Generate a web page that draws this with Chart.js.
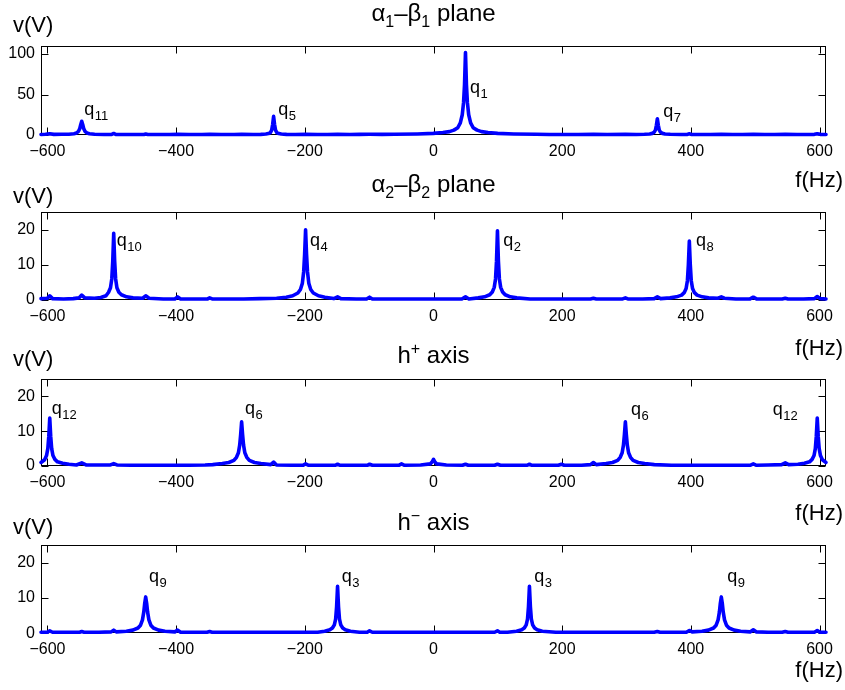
<!DOCTYPE html>
<html><head><meta charset="utf-8">
<script src="https://cdn.jsdelivr.net/npm/chart.js@4.4.1/dist/chart.umd.min.js"></script>
<style>
html,body{margin:0;padding:0;background:#fff;}
#wrap{position:relative;width:845px;height:690px;overflow:hidden;background:#fff;}
canvas{position:absolute;left:0;}
</style></head><body><div id="wrap">
<canvas id="c0" width="845" height="200" style="top:0px"></canvas>
<canvas id="c1" width="845" height="200" style="top:170px"></canvas>
<canvas id="c2" width="845" height="200" style="top:340px"></canvas>
<canvas id="c3" width="845" height="200" style="top:490px"></canvas>
</div>
<script>
// ---------- DATA ----------
const xTicks = [-600, -400, -200, 0, 200, 400, 600];
const yTicksA = [0, 50, 100];
const yTicksB = [0, 10, 20];

// alpha1-beta1 plane spectrum [f(Hz), v(V)]
const spectrumA = [
 [-610,0.7],[-603,0.9],[-596.4,1.6],[-590,0.8],[-578,0.9],[-566.7,1.0],[-558.7,1.6],[-554.7,2.5],
 [-551.7,4.5],[-549.7,8],[-548.2,13],[-546.7,17],[-545.2,13],[-543.7,8],[-541.7,4.5],[-538.7,2.5],
 [-534.7,1.6],[-526.7,1.0],[-512,0.7],[-500,0.8],[-497,1.9],[-494,0.8],[-480,0.6],[-465,0.7],
 [-450,0.7],[-447.3,1.3],[-444,0.7],[-430,0.6],[-410,0.7],[-397.6,0.9],[-380,0.6],[-360,0.7],
 [-347.9,0.8],[-330,0.6],[-310,0.7],[-298.2,0.9],[-280,0.6],[-268.5,0.8],[-260.5,1.2],[-256.5,1.8],
 [-253.5,3],[-251.5,6],[-250,13],[-248.5,23],[-247,13],[-245.5,6],[-243.5,3],[-240.5,1.8],
 [-236.5,1.2],[-228.5,0.8],[-215,0.6],[-198.8,0.8],[-180,0.6],[-165,0.7],[-149.1,0.8],[-130,0.7],
 [-115,0.8],[-99.4,0.9],[-80,0.8],[-60.3,0.9],[-25.3,1.3],[-0.3,2],[14.7,3],[24.7,4.2],
 [31.7,6],[37.7,9],[41.7,15],[44.7,25],[46.7,40],[48.2,62],[49.7,102],[51.2,62],
 [52.7,40],[54.7,25],[57.7,15],[61.7,9],[67.7,6],[74.7,4.2],[84.7,3],[99.7,2],
 [124.7,1.3],[159.7,0.9],[180,0.7],[200,0.6],[225,0.7],[248.5,0.9],[270,0.6],[298.2,0.8],
 [315,0.6],[327.9,0.9],[335.9,1.3],[339.9,2],[342.9,3.5],[344.9,6],[346.4,12],[347.9,20],
 [349.4,12],[350.9,6],[352.9,3.5],[355.9,2],[359.9,1.3],[367.9,0.9],[385,0.6],[394,0.7],
 [397.6,1.4],[401,0.7],[415,0.6],[430,0.7],[447.3,0.9],[465,0.6],[480,0.7],[497,1.0],
 [515,0.6],[530,0.7],[546.7,0.9],[565,0.6],[580,0.7],[592,0.8],[596.4,1.6],[601,0.8],[610,0.6]
];

// alpha2-beta2 plane spectrum
const spectrumB = [
 [-610,0.4],[-600,0.5],[-596.4,1.2],[-592,0.4],[-575,0.3],[-560,0.4],[-551,0.6],[-546.7,1.4],
 [-542,0.6],[-527,0.5],[-517,0.7],[-509,1.2],[-505,2.2],[-502,3.5],[-500,6],[-498.5,11],
 [-497,19],[-495.5,11],[-494,6],[-492,3.5],[-489,2.2],[-485,1.5],[-477,0.9],[-467,0.6],
 [-452,0.5],[-447.3,1.2],[-442,0.5],[-420,0.3],[-402,0.3],[-397.6,0.9],[-393,0.3],[-370,0.3],
 [-351,0.3],[-347.9,0.6],[-344,0.3],[-320,0.3],[-295,0.3],[-270,0.4],[-243.8,0.5],[-228.8,0.8],
 [-218.8,1.2],[-210.8,2],[-206.8,3],[-203.8,4.8],[-201.8,8],[-200.3,13],[-198.8,20],[-197.3,13],
 [-195.8,8],[-193.8,4.8],[-190.8,3],[-186.8,2],[-178.8,1.2],[-168.8,0.8],[-155,0.4],[-149.1,0.9],
 [-144,0.4],[-120,0.3],[-104,0.3],[-99.4,0.8],[-95,0.3],[-70,0.3],[-45,0.3],[-20,0.3],
 [0,0.3],[20,0.3],[44,0.3],[49.7,0.9],[55,0.3],[69.4,0.6],[79.4,0.9],[87.4,1.5],
 [91.4,2.3],[94.4,3.6],[96.4,6],[97.9,11],[99.4,19.7],[100.9,11],[102.4,6],[104.4,3.6],
 [107.4,2.3],[111.4,1.5],[119.4,0.9],[129.4,0.6],[150,0.3],[175,0.3],[200,0.3],[225,0.3],
 [244,0.3],[248.5,0.5],[253,0.3],[275,0.3],[294,0.3],[298.2,0.6],[302,0.3],[325,0.3],
 [343,0.4],[347.9,0.9],[353,0.4],[367.6,0.6],[377.6,0.9],[385.6,1.4],[389.6,2.1],[392.6,3.3],
 [394.6,5.5],[396.1,10],[397.6,16.8],[399.1,10],[400.6,5.5],[402.6,3.3],[405.6,2.1],[409.6,1.4],
 [417.6,0.9],[427.6,0.6],[442,0.5],[447.3,0.9],[452,0.5],[470,0.3],[492,0.3],[497,0.8],
 [502,0.3],[525,0.3],[542,0.3],[546.7,0.5],[551,0.3],[575,0.3],[592,0.4],[596.4,1.0],[601,0.4],[610,0.3]
];

// h+ axis spectrum
const spectrumC = [
 [-610,1.0],[-604.4,1.8],[-601.4,3],[-599.4,5],[-597.9,8.5],[-596.4,13.8],[-594.9,8.5],[-593.4,5],
 [-591.4,3],[-588.4,1.9],[-584.4,1.2],[-576.4,0.8],[-566.4,0.5],[-555,0.3],[-546.7,0.9],[-540,0.3],
 [-520,0.3],[-502,0.3],[-497,0.7],[-492,0.3],[-470,0.2],[-440,0.2],[-410,0.2],[-380,0.2],
 [-355,0.3],[-343.2,0.4],[-328.2,0.7],[-318.2,1.0],[-310.2,1.6],[-306.2,2.5],[-303.2,3.8],[-301.2,6],
 [-299.7,9],[-298.2,12.7],[-296.7,9],[-295.2,6],[-293.2,3.8],[-290.2,2.5],[-286.2,1.6],[-278.2,1.0],
 [-268.2,0.7],[-253,0.4],[-248.5,1.1],[-244,0.3],[-220,0.2],[-203,0.2],[-198.8,0.6],[-194,0.2],
 [-170,0.2],[-153,0.2],[-149.1,0.5],[-145,0.2],[-120,0.2],[-103,0.2],[-99.4,0.5],[-95,0.2],
 [-70,0.2],[-54,0.2],[-49.7,0.6],[-45,0.2],[-20,0.3],[-5,0.6],[-2,1.2],[0,1.9],
 [2,1.2],[5,0.6],[20,0.3],[45,0.2],[49.7,0.5],[54,0.2],[80,0.2],[95,0.2],
 [99.4,0.5],[104,0.2],[130,0.2],[145,0.2],[149.1,0.5],[153,0.2],[180,0.2],[194,0.2],
 [198.8,0.5],[203,0.2],[230,0.2],[244,0.4],[248.5,1.0],[253,0.4],[268.2,0.7],[278.2,1.0],
 [286.2,1.6],[290.2,2.5],[293.2,3.8],[295.2,6],[296.7,9],[298.2,12.7],[299.7,9],[301.2,6],
 [303.2,3.8],[306.2,2.5],[310.2,1.6],[318.2,1.0],[328.2,0.7],[343.2,0.4],[370,0.2],[400,0.2],
 [430,0.2],[460,0.2],[480,0.2],[492,0.2],[497,0.6],[502,0.2],[520,0.3],[541,0.4],
 [546.7,0.9],[552,0.4],[566.4,0.5],[576.4,0.8],[584.4,1.2],[588.4,1.9],[591.4,3],[593.4,5],
 [594.9,8.5],[596.4,13.8],[597.9,8.5],[599.4,5],[601.4,3],[604.4,1.8],[610,1.0]
];

// h- axis spectrum
const spectrumD = [
 [-610,0.3],[-600,0.3],[-596.4,0.7],[-592,0.3],[-570,0.3],[-550,0.3],[-546.7,0.5],[-543,0.3],
 [-520,0.3],[-501,0.4],[-497,0.9],[-493,0.4],[-477.3,0.6],[-467.3,0.9],[-459.3,1.5],[-455.3,2.3],
 [-452.3,3.8],[-450.3,6],[-448.8,8.5],[-447.3,10.3],[-445.8,8.5],[-444.3,6],[-442.3,3.8],[-439.3,2.3],
 [-435.3,1.5],[-427.3,0.9],[-417.3,0.6],[-402,0.4],[-397.6,0.9],[-393,0.3],[-370,0.3],[-352,0.3],
 [-347.9,0.5],[-344,0.3],[-320,0.3],[-290,0.3],[-260,0.3],[-230,0.3],[-200,0.3],[-180,0.3],
 [-169.1,0.6],[-161.1,1.0],[-157.1,1.5],[-154.1,2.4],[-152.1,4],[-150.6,7.5],[-149.1,13.3],[-147.6,7.5],
 [-146.1,4],[-144.1,2.4],[-141.1,1.5],[-137.1,1.0],[-129.1,0.6],[-115,0.3],[-103,0.3],[-99.4,0.7],
 [-95,0.3],[-70,0.3],[-40,0.3],[-10,0.3],[20,0.3],[50,0.3],[75,0.3],[95,0.3],
 [99.4,0.7],[103,0.3],[115,0.3],[129.1,0.6],[137.1,1.0],[141.1,1.5],[144.1,2.4],[146.1,4],
 [147.6,7.5],[149.1,13.3],[150.6,7.5],[152.1,4],[154.1,2.4],[157.1,1.5],[161.1,1.0],[169.1,0.6],
 [190,0.3],[220,0.3],[250,0.3],[280,0.3],[310,0.3],[343,0.3],[347.9,0.5],[352,0.3],
 [375,0.3],[393,0.3],[397.6,0.8],[402,0.4],[417.3,0.6],[427.3,0.9],[435.3,1.5],[439.3,2.3],
 [442.3,3.8],[444.3,6],[445.8,8.5],[447.3,10.3],[448.8,8.5],[450.3,6],[452.3,3.8],[455.3,2.3],
 [459.3,1.5],[467.3,0.9],[477.3,0.6],[492,0.4],[497,1.0],[502,0.4],[520,0.3],[542,0.3],
 [546.7,0.5],[551,0.3],[575,0.3],[592,0.3],[596.4,0.8],[601,0.3],[610,0.3]
];

// peak labels: [f, v, subscript]
const labelsA = [[-542.7, 24.7, '11'], [-241.2, 24.7, '5'], [56.7, 51.5, '1'], [357.2, 22.6, '7']];
const labelsB = [[-492.4, 15.4, '10'], [-192, 15.4, '4'], [108.5, 15.4, '2'], [408, 15.4, '8']];
const labelsC = [[-593.4, 14.9, '12'], [-293, 14.9, '6'], [307, 14.7, '6'], [527.2, 14.7, '12']];
const labelsD = [[-442.2, 14.6, '9'], [-142.7, 14.6, '3'], [156.7, 14.6, '3'], [456.6, 14.6, '9']];

// titles as [text, kind] segments
const titleA = [['α','n'],['1','sub'],['–','n'],['β','n'],['1','sub'],[' plane','n']];
const titleB = [['α','n'],['2','sub'],['–','n'],['β','n'],['2','sub'],[' plane','n']];
const titleC = [['h','n'],['+','sup'],[' axis','n']];
const titleD = [['h','n'],['−','sup'],[' axis','n']];
const yLabel = 'v(V)';
const xLabel = 'f(Hz)';

// ---------- RENDER ----------
const FONT = "'Liberation Sans', Arial, Helvetica, sans-serif";
Chart.defaults.font.family = FONT;
Chart.defaults.font.size = 16;
Chart.defaults.color = '#000';

const panels = [
  {id:'c0', data:spectrumA, yMax:110, yTicks:yTicksA, labels:labelsA, title:titleA, plotTop:46, plotBottom:135, titleY:21, vY:31.7, fY:186.7},
  {id:'c1', data:spectrumB, yMax:25, yTicks:yTicksB, labels:labelsB, title:titleB, plotTop:42.3, plotBottom:130, titleY:21.7, vY:33.3, fY:185},
  {id:'c2', data:spectrumC, yMax:25, yTicks:yTicksB, labels:labelsC, title:titleC, plotTop:39, plotBottom:126, titleY:23.3, vY:26, fY:180},
  {id:'c3', data:spectrumD, yMax:25, yTicks:yTicksB, labels:labelsD, title:titleD, plotTop:55, plotBottom:143.3, titleY:40, vY:44, fY:186.7}
];

const CW = 845, CH = 200, LEFT = 41, RIGHT = 826, XAXIS_H = 30;

function drawSegments(ctx, segs, cx, baseY, size, small) {
  const parts = segs.map(([t, k]) => {
    const fs = k === 'n' ? size : small;
    ctx.font = fs + 'px ' + FONT;
    return {t, k, fs, w: ctx.measureText(t).width};
  });
  const total = parts.reduce((s, p) => s + p.w, 0);
  let x = cx - total / 2;
  ctx.textAlign = 'left';
  ctx.textBaseline = 'alphabetic';
  for (const p of parts) {
    ctx.font = p.fs + 'px ' + FONT;
    const dy = p.k === 'sub' ? 6 : (p.k === 'sup' ? -9 : 0);
    ctx.fillText(p.t, x, baseY + dy);
    x += p.w;
  }
}

const framePlugin = {
  id: 'frame',
  beforeDatasetsDraw(chart) {
    const {ctx, chartArea: a, scales: {x, y}} = chart;
    ctx.save();
    ctx.strokeStyle = '#000';
    ctx.lineWidth = 1;
    const L = Math.round(a.left) + 0.5, R = Math.round(a.right) - 0.5;
    const T = Math.round(a.top) + 0.5, B = Math.round(a.bottom) - 0.5;
    ctx.strokeRect(L, T, R - L, B - T);
    const tl = 7;
    ctx.beginPath();
    x.ticks.forEach(t => {
      const px = Math.round(x.getPixelForValue(t.value)) + 0.5;
      ctx.moveTo(px, B); ctx.lineTo(px, B - tl);
      ctx.moveTo(px, T); ctx.lineTo(px, T + tl);
    });
    y.ticks.forEach(t => {
      const py = Math.round(y.getPixelForValue(t.value)) + 0.5;
      ctx.moveTo(L, py); ctx.lineTo(L + tl, py);
      ctx.moveTo(R, py); ctx.lineTo(R - tl, py);
    });
    ctx.stroke();
    ctx.restore();
  },
  afterDraw(chart) {
    const cfg = chart.options.plugins.frame;
    const {ctx, chartArea: a, scales: {x, y}} = chart;
    ctx.save();
    ctx.fillStyle = '#000';
    drawSegments(ctx, cfg.title, (a.left + a.right) / 2, cfg.titleY, 24, 16);
    ctx.font = '22px ' + FONT;
    ctx.textAlign = 'left'; ctx.textBaseline = 'alphabetic';
    ctx.fillText(yLabel, 13, cfg.vY);
    ctx.textAlign = 'right';
    ctx.fillText(xLabel, 843, cfg.fY);
    cfg.labels.forEach(([f, v, s]) => {
      const px = x.getPixelForValue(f), py = y.getPixelForValue(v);
      ctx.textAlign = 'left';
      ctx.font = '18px ' + FONT;
      ctx.fillText('q', px, py);
      const w = ctx.measureText('q').width;
      ctx.font = '13px ' + FONT;
      ctx.fillText(s, px + w + 0.5, py + 5);
    });
    ctx.restore();
  }
};

panels.forEach(p => {
  new Chart(document.getElementById(p.id), {
    type: 'line',
    data: {
      datasets: [{
        data: p.data.map(([f, v]) => ({x: f, y: v})),
        borderColor: '#0000ff',
        borderWidth: 3.6,
        pointRadius: 0,
        tension: 0,
        borderJoinStyle: 'round',
        borderCapStyle: 'round',
        clip: 4
      }]
    },
    options: {
      responsive: false,
      animation: false,
      events: [],
      layout: {padding: {left: 0, right: CW - RIGHT, top: p.plotTop, bottom: CH - p.plotBottom - XAXIS_H}},
      plugins: {
        legend: {display: false},
        tooltip: {enabled: false},
        frame: {title: p.title, labels: p.labels, titleY: p.titleY, vY: p.vY, fY: p.fY}
      },
      scales: {
        x: {
          type: 'linear', min: -610, max: 610,
          grid: {display: false, drawTicks: false},
          border: {display: false},
          afterBuildTicks: s => { s.ticks = xTicks.map(v => ({value: v})); },
          afterFit: s => { s.height = XAXIS_H; s.paddingLeft = 0; s.paddingRight = 0; },
          ticks: {
            padding: 7, maxRotation: 0, autoSkip: false, font: {size: 16},
            callback: v => (v < 0 ? '\u2212' + Math.abs(v) : String(v))
          }
        },
        y: {
          type: 'linear', min: 0, max: p.yMax,
          grid: {display: false, drawTicks: false},
          border: {display: false},
          afterBuildTicks: s => { s.ticks = p.yTicks.map(v => ({value: v})); },
          afterFit: s => { s.width = LEFT; s.paddingTop = 0; s.paddingBottom = 0; },
          ticks: {padding: 6, font: {size: 16}}
        }
      }
    },
    plugins: [framePlugin]
  });
});
</script>
</body></html>
